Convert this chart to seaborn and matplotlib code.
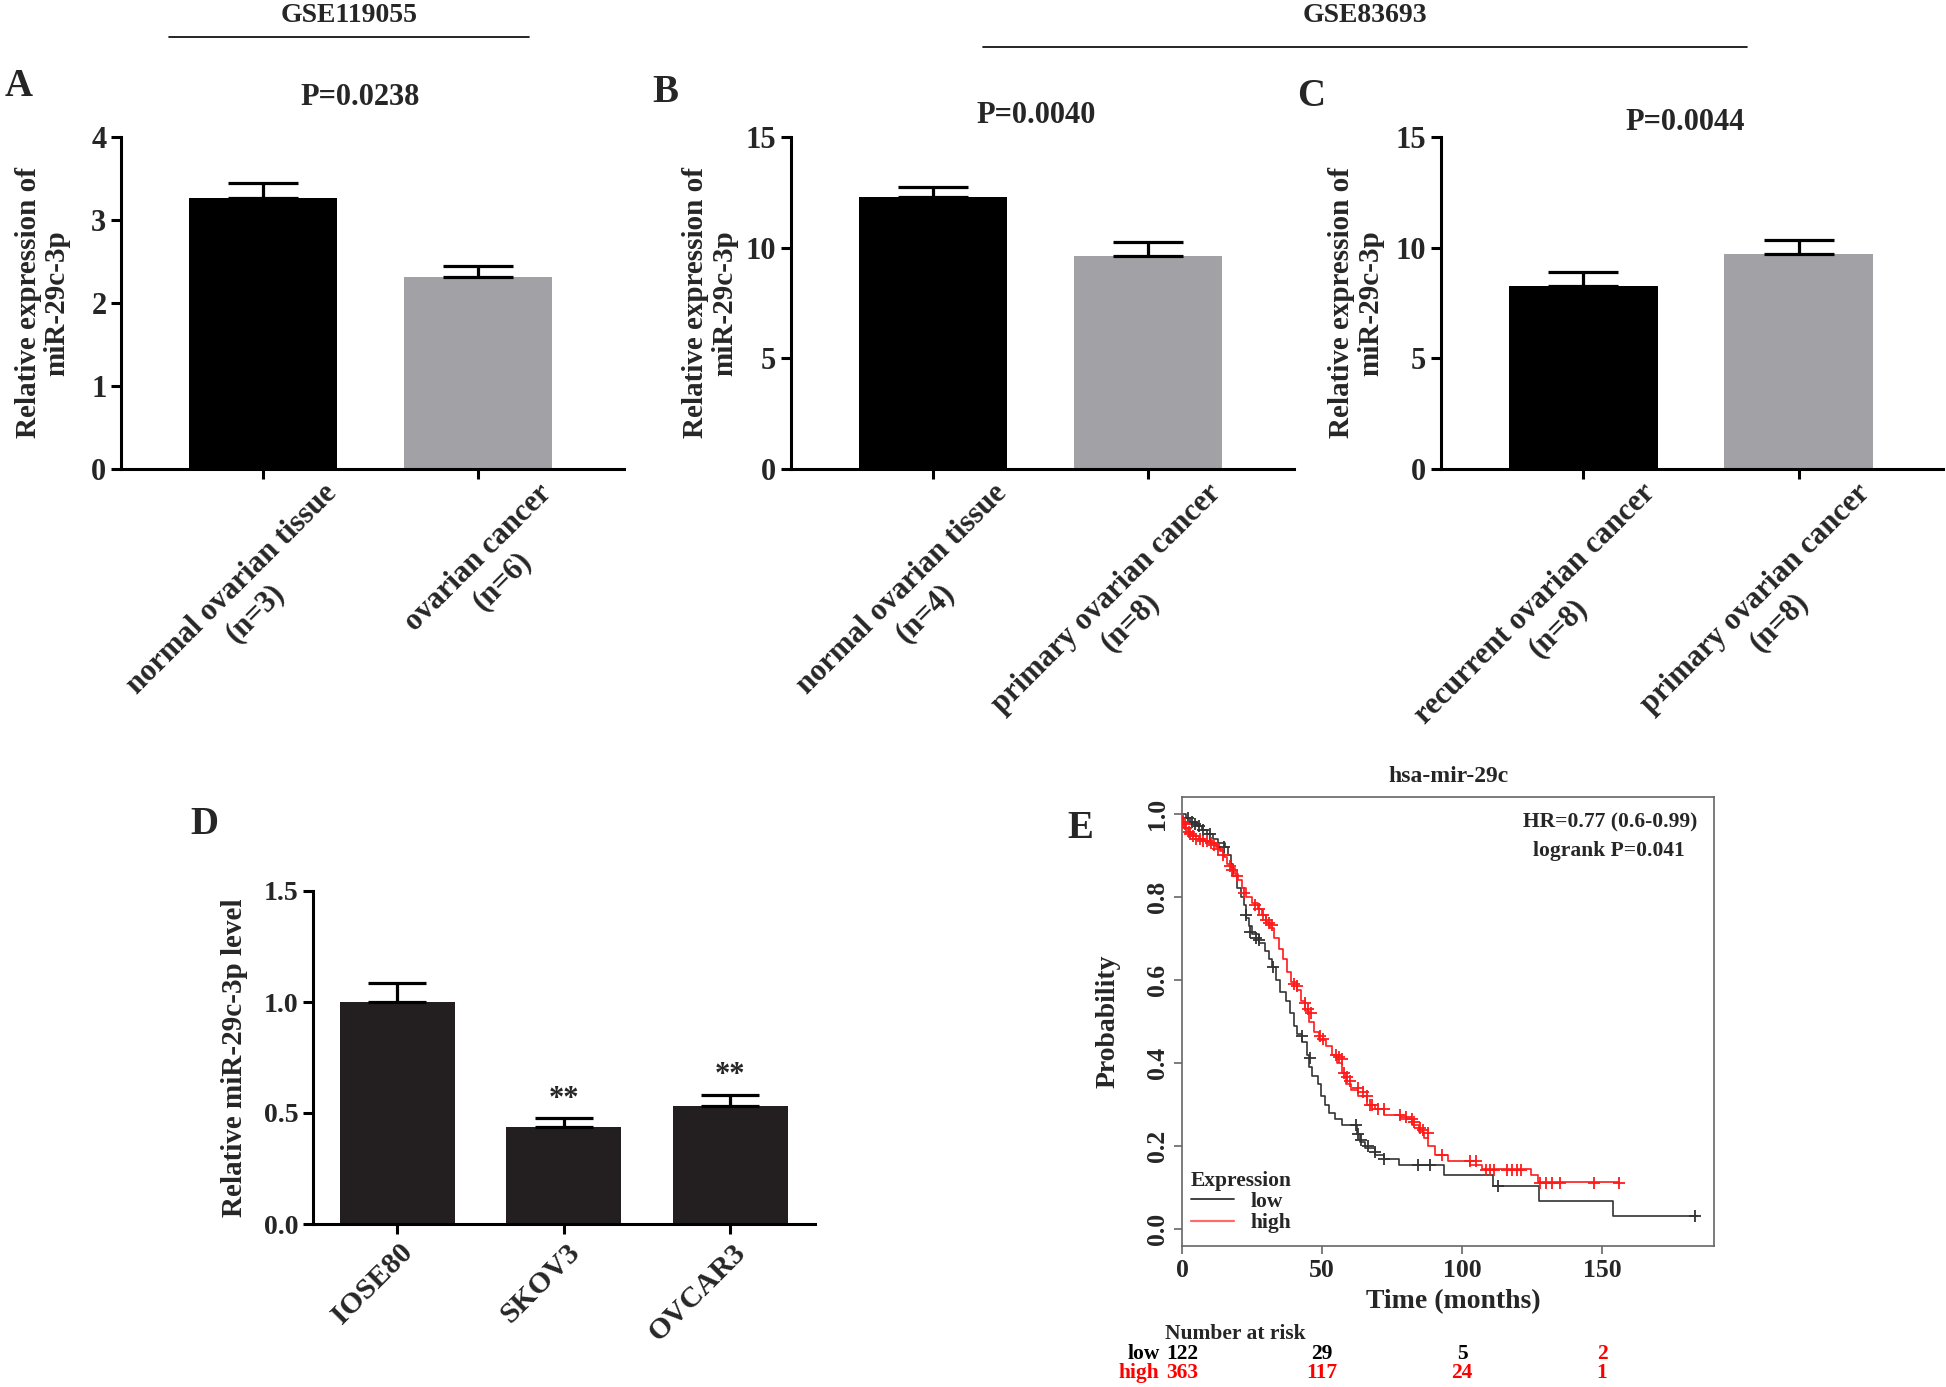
import numpy as np
import pandas as pd
import matplotlib
matplotlib.use('Agg')
import matplotlib.pyplot as plt
import matplotlib.transforms as mtransforms
from matplotlib.lines import Line2D
import seaborn as sns

# ---- data ----
# A: GSE119055
a_groups = ['normal ovarian tissue\n(n=3)', 'ovarian cancer\n(n=6)']
a_mean = [3.26, 2.31]
a_sem = [0.18, 0.14]
a_p = 'P=0.0238'
# B: GSE83693
b_groups = ['normal ovarian tissue\n(n=4)', 'primary ovarian cancer\n(n=8)']
b_mean = [12.3, 9.63]
b_sem = [0.45, 0.64]
b_p = 'P=0.0040'
# C: GSE83693
c_groups = ['recurrent ovarian cancer\n(n=8)', 'primary ovarian cancer\n(n=8)']
c_mean = [8.27, 9.72]
c_sem = [0.62, 0.64]
c_p = 'P=0.0044'
# D: cell lines
d_cells = ['IOSE80', 'SKOV3', 'OVCAR3']
d_mean = [1.0, 0.435, 0.532]
d_sem = [0.085, 0.041, 0.05]
d_stars = ['', '**', '**']

# E: Kaplan-Meier, hsa-mir-29c (step points: time, survival)
low_t = [0, 1.5, 3, 5.5, 7, 9, 11, 13, 15.5, 16.5, 17.5, 18.3, 19.5, 21, 22, 23, 24, 25,
         27.5, 29.5, 31, 32, 33.5, 35, 37, 38.5, 40, 41, 43, 44.5, 45.5, 46.5, 48.5, 49.5,
         51, 52.5, 54.5, 57, 62.5, 63.5, 65.5, 69, 72, 77.5, 93.5, 111, 127.5, 154, 184]
low_s = [1.0, 0.99, 0.98, 0.97, 0.96, 0.95, 0.94, 0.93, 0.92, 0.90, 0.88, 0.85, 0.82, 0.80,
         0.78, 0.75, 0.73, 0.71, 0.69, 0.67, 0.65, 0.63, 0.60, 0.57, 0.55, 0.52, 0.49, 0.47,
         0.45, 0.42, 0.39, 0.37, 0.35, 0.32, 0.30, 0.28, 0.265, 0.25, 0.23, 0.21, 0.195,
         0.18, 0.17, 0.155, 0.13, 0.105, 0.068, 0.033, 0.033]
low_cens_t = [2, 3.5, 4.5, 6, 7.5, 10, 15, 22.8, 24.3, 26.5, 27.5, 32.4, 42.8, 45.7,
              62, 63, 64, 66.4, 69, 72.3, 84.2, 88.6, 113, 183.3]
low_cens_s = [0.99, 0.98, 0.975, 0.97, 0.96, 0.95, 0.92, 0.757, 0.716, 0.70, 0.695, 0.63,
              0.466, 0.413, 0.25, 0.23, 0.215, 0.20, 0.186, 0.169, 0.155, 0.155, 0.105, 0.033]

high_t = [0, 0.5, 1, 2, 3.5, 6, 8, 10, 12, 13.5, 15, 16, 17.5, 19, 20, 21.5, 23, 25, 27,
          28.5, 30, 31.5, 33, 34.5, 36, 37.5, 39, 41, 42.5, 44, 45.5, 47, 49, 51.5, 53.5,
          55.5, 57, 58.5, 60.5, 63, 66, 69, 72, 78, 82, 84.5, 86.5, 88, 90.5, 95, 103, 107,
          124.5, 127, 156]
high_s = [1.0, 0.98, 0.965, 0.955, 0.945, 0.94, 0.935, 0.93, 0.92, 0.91, 0.895, 0.88, 0.87,
          0.855, 0.84, 0.82, 0.80, 0.785, 0.77, 0.755, 0.74, 0.725, 0.70, 0.675, 0.65, 0.62,
          0.595, 0.575, 0.55, 0.525, 0.50, 0.475, 0.455, 0.44, 0.42, 0.40, 0.375, 0.35, 0.335,
          0.32, 0.30, 0.29, 0.275, 0.265, 0.25, 0.235, 0.22, 0.20, 0.18, 0.165, 0.155, 0.145,
          0.13, 0.115, 0.115]
high_cens_t = [0.5, 1, 1.5, 2.5, 3, 4, 5, 6.5, 7.5, 9, 10.5, 11.5, 13, 14.5, 17, 18, 19.5,
               22, 26, 27.5, 29, 30, 31, 32, 40, 41, 44, 45, 46, 49.4, 50.5, 55, 56, 57,
               58, 59, 60, 63, 64.5, 66, 67, 68, 70, 72, 78, 80, 82, 83, 85, 86, 88, 93,
               103, 105, 108.6, 110, 111.5, 116, 118, 119.5, 121, 128, 130, 132, 135, 147, 156]
high_cens_s = [0.98, 0.975, 0.965, 0.955, 0.95, 0.945, 0.94, 0.94, 0.935, 0.935, 0.93, 0.925,
               0.915, 0.90, 0.875, 0.865, 0.85, 0.81, 0.78, 0.77, 0.757, 0.745, 0.738, 0.732,
               0.59, 0.585, 0.545, 0.53, 0.52, 0.466, 0.458, 0.42, 0.415, 0.41, 0.376, 0.366,
               0.356, 0.34, 0.33, 0.32, 0.30, 0.30, 0.29, 0.29, 0.274, 0.27, 0.266, 0.258,
               0.245, 0.24, 0.233, 0.18, 0.164, 0.164, 0.143, 0.143, 0.143, 0.143, 0.143,
               0.143, 0.143, 0.112, 0.112, 0.112, 0.112, 0.112, 0.112]
risk_times = [0, 50, 100, 150]
risk_low = ['122', '29', '5', '2']
risk_high = ['363', '117', '24', '1']
risk_low_colors = ['black', 'black', 'black', 'red']

# ---- style ----
sns.set_theme(style='ticks')
plt.rcParams['font.family'] = ['Liberation Serif', 'DejaVu Serif']
plt.rcParams['font.weight'] = 'bold'
plt.rcParams['axes.labelweight'] = 'bold'

W, H = 1946, 1387
fig = plt.figure(figsize=(W / 100, H / 100), dpi=100)


def px_axes(l, t, r, b):
    return fig.add_axes([l / W, 1 - b / H, (r - l) / W, (b - t) / H])


def bar_panel(ax, groups, means, sems, colors, yticks, fs, capsize, lab_shift, ylab, ylab_x,
              ylab_fs, xlab_fs):
    df = pd.DataFrame({'group': groups, 'value': means})
    sns.barplot(data=df, x='group', y='value', hue='group', palette=colors, width=0.69,
                saturation=1, legend=False, errorbar=None, linewidth=0, ax=ax)
    ax.errorbar(range(len(means)), means, yerr=[np.zeros(len(sems)), sems], fmt='none',
                ecolor='black', elinewidth=2.3, capsize=capsize, capthick=2.3, zorder=3)
    sns.despine(ax=ax)
    for s in ['left', 'bottom']:
        ax.spines[s].set_linewidth(2.2)
        ax.spines[s].set_color('black')
    ax.set_ylim(yticks[0], yticks[-1])
    ax.set_yticks(yticks)
    ax.tick_params(axis='both', length=7, width=2.2, color='black', labelsize=fs)
    ax.set_xlabel('')
    ax.set_ylabel(ylab, fontsize=ylab_fs, linespacing=1.1)
    ax.yaxis.set_label_coords(ylab_x, 0.5)
    offset = mtransforms.ScaledTranslation(lab_shift[0], lab_shift[1], fig.dpi_scale_trans)
    for lab in ax.get_xticklabels():
        lab.set_rotation(45)
        lab.set_ha('right')
        lab.set_rotation_mode('anchor')
        lab.set_multialignment('center')
        lab.set_fontsize(xlab_fs)
        lab.set_transform(lab.get_transform() + offset)


pal2 = ['#000000', '#a2a1a6']
ylab2 = 'Relative expression of\nmiR-29c-3p'

axA = px_axes(121, 137, 624, 469)
bar_panel(axA, a_groups, a_mean, a_sem, pal2, [0, 1, 2, 3, 4], 22, 25, (0.59, 0.05), ylab2,
          -0.10, 21, 22)
axA.set_xlim(-0.66, 1.68)
axA.text(0.475, 1.12, a_p, transform=axA.transAxes, ha='center', va='center', fontsize=22)

axB = px_axes(791, 137, 1294, 469)
bar_panel(axB, b_groups, b_mean, b_sem, pal2, [0, 5, 10, 15], 22, 25, (0.59, 0.05), ylab2,
          -0.105, 21, 22)
axB.set_xlim(-0.66, 1.68)
axB.text(0.487, 1.066, b_p, transform=axB.transAxes, ha='center', va='center', fontsize=22)

axC = px_axes(1441, 137, 1943, 469)
bar_panel(axC, c_groups, c_mean, c_sem, pal2, [0, 5, 10, 15], 22, 25, (0.57, 0.05), ylab2,
          -0.113, 21, 22)
axC.set_xlim(-0.66, 1.67)
axC.text(0.486, 1.045, c_p, transform=axC.transAxes, ha='center', va='center', fontsize=22)

axD = px_axes(313, 891, 815, 1224)
bar_panel(axD, d_cells, d_mean, d_sem, ['#231f20'] * 3, [0.0, 0.5, 1.0, 1.5], 20, 21, (0.02, 0.0),
          'Relative miR-29c-3p level', -0.13, 21, 21.5)
axD.set_yticklabels(['0.0', '0.5', '1.0', '1.5'])
axD.set_xlim(-0.505, 2.51)
for i, st in enumerate(d_stars):
    if st:
        axD.text(i, d_mean[i] + d_sem[i] + 0.02, st, ha='center', va='bottom', fontsize=22)

# ---- E: survival ----
axE = px_axes(1182, 797, 1714, 1246)
sns.lineplot(x=low_t, y=low_s, drawstyle='steps-post', color='#333333', lw=1.2,
             estimator=None, sort=False, ax=axE)
sns.lineplot(x=high_t, y=high_s, drawstyle='steps-post', color='#ff1a1a', lw=1.2,
             estimator=None, sort=False, ax=axE)
sns.scatterplot(x=low_cens_t, y=low_cens_s, marker='+', s=80, color='#333333', linewidth=1.3,
                ax=axE, zorder=4)
sns.scatterplot(x=high_cens_t, y=high_cens_s, marker='+', s=80, color='#ff1a1a', linewidth=1.3,
                ax=axE, zorder=4)
axE.set_xlim(0, 190)
axE.set_ylim(-0.04, 1.04)
axE.set_xticks([0, 50, 100, 150])
axE.set_yticks([0.0, 0.2, 0.4, 0.6, 0.8, 1.0])
axE.set_yticklabels(['0.0', '0.2', '0.4', '0.6', '0.8', '1.0'])
for s in axE.spines.values():
    s.set_linewidth(1.2)
    s.set_color('#666666')
axE.tick_params(axis='both', length=6, width=1.2, color='#666666', labelsize=18.5)
for lab in axE.get_yticklabels():
    lab.set_rotation(90)
    lab.set_va('center')
axE.set_ylabel('Probability', fontsize=20)
axE.yaxis.set_label_coords(-0.115, 0.5)
axE.set_xlabel('Time (months)', fontsize=20)
axE.xaxis.set_label_coords(0.51, -0.095)
axE.text(0.5, 1.045, 'hsa-mir-29c', transform=axE.transAxes, ha='center', va='center', fontsize=17)
axE.text(0.968, 0.944, 'HR=0.77 (0.6-0.99)', transform=axE.transAxes, ha='right', va='center',
         fontsize=15.5)
axE.text(0.945, 0.88, 'logrank P=0.041', transform=axE.transAxes, ha='right', va='center',
         fontsize=15.5)
handles = [Line2D([], [], color='#333333', lw=1.3, label='low'),
           Line2D([], [], color='#ff6a6a', lw=1.6, label='high')]
axE.legend(handles=handles, title='Expression', loc='lower left', bbox_to_anchor=(-0.008, 0.0),
           frameon=False, fontsize=15.5, title_fontproperties={'weight': 'bold', 'size': 15.5},
           alignment='left', handlelength=2.0, borderaxespad=0.2, labelspacing=0.05,
           handletextpad=0.8)

# number at risk table
tr = mtransforms.blended_transform_factory(axE.transData, axE.transAxes)
axE.text(-6, -0.196, 'Number at risk', transform=tr, ha='left', va='center', fontsize=15.5)
axE.text(-8, -0.24, 'low', transform=tr, ha='right', va='center', fontsize=15.5, color='black')
axE.text(-8, -0.283, 'high', transform=tr, ha='right', va='center', fontsize=15.5, color='red')
for t, lo, hi, lc in zip(risk_times, risk_low, risk_high, risk_low_colors):
    axE.text(t, -0.24, lo, transform=tr, ha='center', va='center', fontsize=15.5, color=lc)
    axE.text(t, -0.283, hi, transform=tr, ha='center', va='center', fontsize=15.5, color='red')

# ---- panel letters and dataset headers ----
for letter, x, y in [('A', 5, 87), ('B', 652, 93), ('C', 1297, 97), ('D', 190, 825), ('E', 1067, 829)]:
    fig.text(x / W, 1 - y / H, letter, ha='left', va='center', fontsize=28)

fig.text(349 / W, 1 - 15 / H, 'GSE119055', ha='center', va='center', fontsize=20)
fig.add_artist(Line2D([169 / W, 529 / W], [1 - 37 / H, 1 - 37 / H], color='black', lw=1.2,
                      transform=fig.transFigure))
fig.text(1365 / W, 1 - 15 / H, 'GSE83693', ha='center', va='center', fontsize=20)
fig.add_artist(Line2D([983 / W, 1747 / W], [1 - 47 / H, 1 - 47 / H], color='black', lw=1.2,
                      transform=fig.transFigure))

fig.savefig('out.png', dpi=100, facecolor='white')
